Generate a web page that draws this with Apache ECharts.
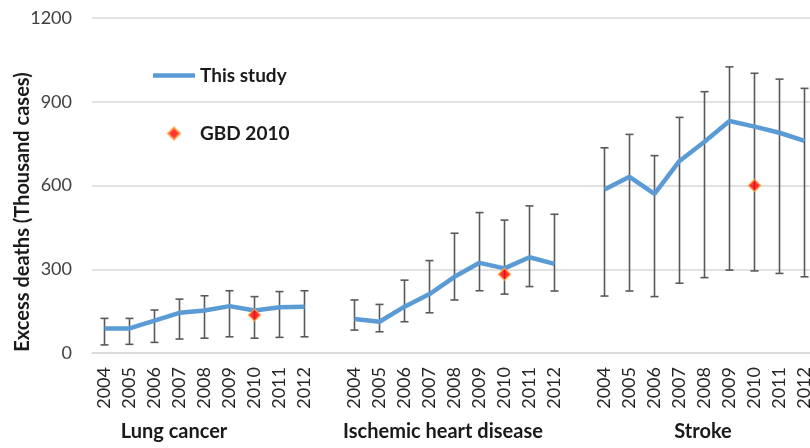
<!DOCTYPE html>
<html>
<head>
<meta charset="utf-8">
<script src="https://cdn.jsdelivr.net/npm/echarts@6/dist/echarts.min.js"></script>
<style>
  html, body { margin: 0; padding: 0; background: #fff; }
  #chart { width: 810px; height: 448px; }
</style>
</head>
<body>
<div id="chart"></div>
<script>
// categories
const years = ['2004', '2005', '2006', '2007', '2008', '2009', '2010', '2011', '2012'];
const groups = ['Lung cancer', 'Ischemic heart disease', 'Stroke'];
const yTicks = [0, 300, 600, 900, 1200];

// "This study" central estimates (thousand cases)
const lungStudy   = [88, 88, 116, 144, 152, 168, 152, 164, 166];
const ihdStudy    = [122, 112, 166, 211, 273, 323, 303, 343, 319];
const strokeStudy = [586, 631, 570, 688, 757, 831, 811, 789, 760];

// error bars: lower / upper
const lungLow    = [29, 31, 38, 50, 53, 58, 53, 56, 58];
const lungHigh   = [124, 124, 154, 193, 205, 223, 202, 220, 223];
const ihdLow     = [82, 76, 112, 144, 190, 223, 211, 238, 222];
const ihdHigh    = [190, 174, 261, 331, 429, 503, 476, 527, 497];
const strokeLow  = [204, 222, 202, 250, 270, 297, 294, 285, 273];
const strokeHigh = [735, 783, 707, 844, 936, 1025, 1002, 981, 948];

// GBD 2010 (one value per disease, year 2010)
const gbdYear = '2010';
const gbd2010 = [136, 282, 600];

// build the combined category axis with one empty slot between groups
const studies = [lungStudy, ihdStudy, strokeStudy];
const lows = [lungLow, ihdLow, strokeLow];
const highs = [lungHigh, ihdHigh, strokeHigh];

let cats = [];
let lineData = [];
let barData = [];
let gbdData = [];
groups.forEach(function (g, gi) {
  if (gi > 0) {
    cats.push('');
    lineData.push(null);
    gbdData.push(null);
  }
  years.forEach(function (y, yi) {
    const idx = cats.length;
    cats.push(y);
    lineData.push(studies[gi][yi]);
    barData.push([idx, lows[gi][yi], highs[gi][yi]]);
    gbdData.push(y === gbdYear ? gbd2010[gi] : null);
  });
});

const font = 'Lato, "Open Sans", sans-serif';
const chart = echarts.init(document.getElementById('chart'), null, { renderer: 'canvas' });

const option = {
  animation: false,
  textStyle: { fontFamily: font },
  grid: { left: 92, top: 18, width: 725, height: 335, outerBoundsMode: 'none', containLabel: false },
  legend: {
    orient: 'vertical',
    left: 148,
    top: 61,
    itemWidth: 42,
    itemHeight: 12,
    itemGap: 39,
    symbolKeepAspect: true,
    data: [
      { name: 'This study', icon: 'path://M0,0 H42 V4.5 H0 Z' },
      { name: 'GBD 2010', icon: 'path://M6,0 L12,6 L6,12 L0,6 Z' }
    ],
    textStyle: { fontFamily: font, fontSize: 19, fontWeight: 'bold', color: '#1a1a1a' }
  },
  xAxis: {
    type: 'category',
    data: cats,
    boundaryGap: true,
    axisLine: { show: true, lineStyle: { color: '#d9d9d9', width: 1.5 } },
    axisTick: { show: false },
    axisLabel: {
      interval: 0,
      rotate: 90,
      margin: 14,
      fontSize: 18,
      color: '#262626',
      fontFamily: font
    }
  },
  yAxis: {
    type: 'value',
    min: 0,
    max: 1200,
    interval: 300,
    axisLine: { show: false },
    axisTick: { show: false },
    axisLabel: {
      margin: 20,
      fontSize: 18,
      color: '#404040',
      fontFamily: font,
      formatter: function (v) { return yTicks.indexOf(v) >= 0 ? String(v) : ''; }
    },
    splitLine: { lineStyle: { color: '#d9d9d9', width: 1.5 } }
  },
  graphic: [
    {
      type: 'text',
      x: 23,
      y: 212,
      rotation: Math.PI / 2,
      style: {
        text: 'Excess deaths (Thousand cases)',
        font: 'bold 20px ' + font,
        fill: '#1a1a1a',
        align: 'center',
        verticalAlign: 'middle'
      }
    }
  ].concat(groups.map(function (g, gi) {
    const cx = [174, 443, 703][gi];
    return {
      type: 'text',
      x: cx,
      y: 432,
      style: {
        text: g,
        font: 'bold 20px ' + font,
        fill: '#1a1a1a',
        align: 'center',
        verticalAlign: 'middle'
      }
    };
  })),
  series: [
    {
      name: 'error',
      type: 'custom',
      data: barData,
      z: 2,
      renderItem: function (params, api) {
        const x = api.value(0);
        const lo = api.coord([x, api.value(1)]);
        const hi = api.coord([x, api.value(2)]);
        const half = 4;
        const st = { stroke: '#595959', lineWidth: 1.6 };
        return {
          type: 'group',
          children: [
            { type: 'line', shape: { x1: lo[0], y1: lo[1], x2: hi[0], y2: hi[1] }, style: st },
            { type: 'line', shape: { x1: lo[0] - half, y1: lo[1], x2: lo[0] + half, y2: lo[1] }, style: st },
            { type: 'line', shape: { x1: hi[0] - half, y1: hi[1], x2: hi[0] + half, y2: hi[1] }, style: st }
          ]
        };
      }
    },
    {
      name: 'This study',
      type: 'line',
      data: lineData,
      connectNulls: false,
      symbol: 'none',
      z: 3,
      lineStyle: { color: '#5b9bd5', width: 4.5 },
      itemStyle: { color: '#5b9bd5' }
    },
    {
      name: 'GBD 2010',
      type: 'scatter',
      data: gbdData,
      symbol: 'diamond',
      symbolSize: 12,
      z: 4,
      itemStyle: { color: '#ff0000', borderColor: '#ffa040', borderWidth: 1.5 }
    }
  ]
};

chart.setOption(option);
</script>
</body>
</html>
